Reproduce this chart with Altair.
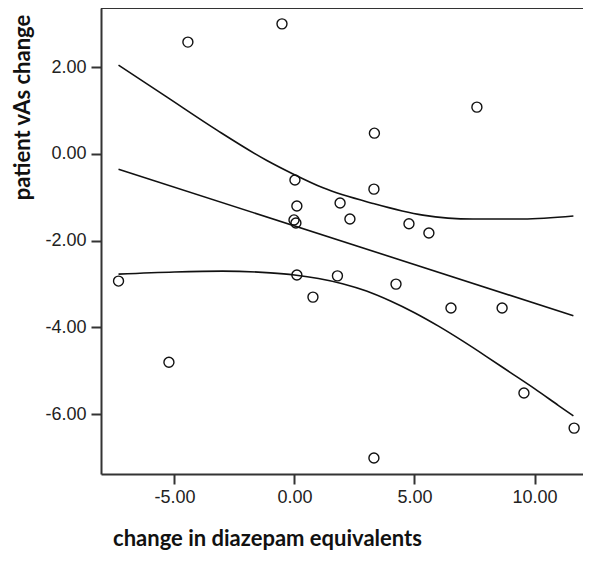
import altair as alt
import pandas as pd

# scatter points: change in diazepam equivalents vs patient VAS change
pt_x = [-7.33, -5.23, -4.44, -0.52, 0.02, 0.10, -0.02, 0.06, 0.10, 0.77, 1.79, 1.90,
        2.31, 3.33, 3.31, 3.31, 4.23, 4.77, 5.60, 6.52, 7.60, 8.65, 9.56, 11.65]
pt_y = [-2.93, -4.80, 2.58, 3.00, -0.60, -1.20, -1.52, -1.59, -2.79, -3.30, -2.81, -1.13,
        -1.50, 0.48, -0.81, -7.01, -3.00, -1.61, -1.82, -3.55, 1.08, -3.55, -5.51, -6.32]

# fitted line
fit_x = [-7.33, 11.62]
fit_y = [-0.35, -3.73]

# upper confidence band
up_x = [-7.33, -5.31, -3.23, -1.15, -0.06, 1.19, 3.27, 5.35, 7.44, 9.52, 11.62]
up_y = [2.05, 1.31, 0.55, -0.15, -0.46, -0.78, -1.14, -1.41, -1.50, -1.50, -1.43]

# lower confidence band
lo_x = [-7.33, -5.0, -3.0, -1.0, 0.0, 1.0, 2.0, 3.0, 4.0, 5.0, 6.0, 7.0, 8.0, 9.0, 10.0, 11.0, 11.62]
lo_y = [-2.77, -2.72, -2.70, -2.74, -2.79, -2.87, -2.99, -3.16, -3.39, -3.66, -3.97, -4.31,
        -4.67, -5.04, -5.41, -5.80, -6.04]

x_ticks = [-5, 0, 5, 10]
y_ticks = [-6, -4, -2, 0, 2]
x_dom = [-8.06, 12.02]
y_dom = [-7.378, 3.366]

pts = pd.DataFrame({"x": pt_x, "y": pt_y})
lines = pd.concat([
    pd.DataFrame({"x": fit_x, "y": fit_y, "s": "fit"}),
    pd.DataFrame({"x": up_x, "y": up_y, "s": "upper"}),
    pd.DataFrame({"x": lo_x, "y": lo_y, "s": "lower"}),
])

xs = alt.Scale(domain=x_dom, nice=False, zero=False)
ys = alt.Scale(domain=y_dom, nice=False, zero=False)

axis_common = dict(
    labelFont="Liberation Sans", labelFontSize=18, labelColor="#222",
    titleFont="Lato", titleFontWeight="bold", titleFontSize=22, titleColor="#111",
    domainColor="#333", domainWidth=2, tickColor="#333", tickWidth=2, tickSize=10,
    grid=False, format=".2f",
    labelExpr="replace(datum.label, '\u2212', '-')",
)

x_axis = alt.Axis(values=x_ticks, title="change in diazepam equivalents",
                  labelPadding=4, titleX=166, titleY=64, titleAlign="center",
                  titleBaseline="middle", **axis_common)
y_axis = alt.Axis(values=y_ticks, title="patient vAs change",
                  labelPadding=5, titleX=-79, titleY=99, titleAlign="center",
                  titleBaseline="middle", titleAngle=270, **axis_common)

points = alt.Chart(pts).mark_point(
    shape="circle", filled=False, size=100, stroke="#111", strokeWidth=1.4, opacity=1
).encode(x=alt.X("x:Q", scale=xs, axis=x_axis), y=alt.Y("y:Q", scale=ys, axis=y_axis))

curves = alt.Chart(lines).mark_line(
    color="#111", strokeWidth=1.6, interpolate="monotone"
).encode(x=alt.X("x:Q", scale=xs), y=alt.Y("y:Q", scale=ys), detail="s:N")

top = alt.Chart(pd.DataFrame({"t": [y_dom[1]]})).mark_rule(
    color="#333", strokeWidth=2
).encode(y=alt.Y("t:Q", scale=ys))

chart = alt.layer(points, curves, top).properties(
    width=482, height=466,
    autosize=alt.AutoSizeParams(type="none"),
    padding={"left": 93, "top": 0, "right": 0, "bottom": 78},
).configure_view(stroke="transparent", strokeWidth=0)

chart.save("out.html", embed_options={"renderer": "svg", "actions": False})
